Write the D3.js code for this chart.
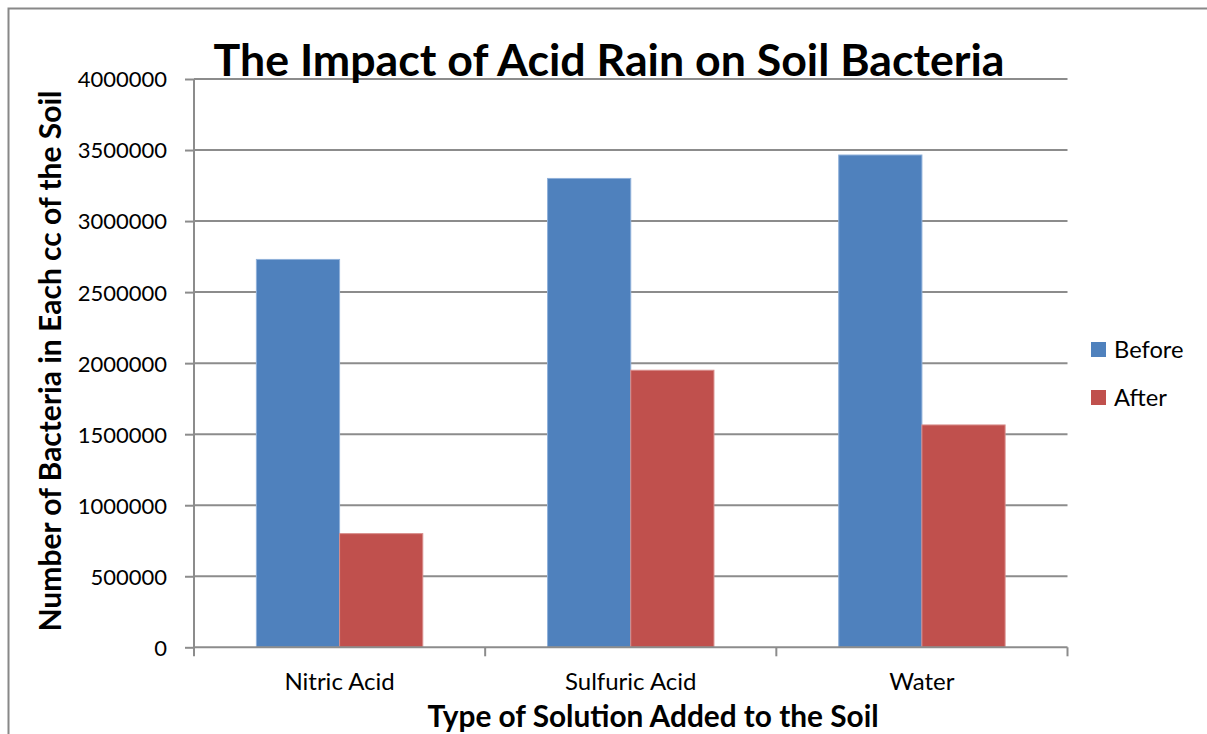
<!DOCTYPE html>
<html><head><meta charset="utf-8">
<script src="https://cdn.jsdelivr.net/npm/d3@7/dist/d3.min.js"></script>
<style>body{margin:0;background:#fff;} text{font-family:Lato,"Open Sans",sans-serif;fill:#000;}</style>
</head><body><svg id="c" width="1207" height="734"></svg>
<script>
const categories = ["Nitric Acid", "Sulfuric Acid", "Water"];
const seriesNames = ["Before", "After"];
const beforeValues = [2730000, 3300000, 3465000];
const afterValues = [800000, 1950000, 1565000];
const yTicks = [0, 500000, 1000000, 1500000, 2000000, 2500000, 3000000, 3500000, 4000000];
const colors = ["#4F81BD", "#C0504D"];

const svg = d3.select("#c");
const L = 194, R = 1067.5, T = 79, B = 647.3;
const grid = "#8c8c8c";

svg.append("rect").attr("x",8.5).attr("y",8.5).attr("width",1250).attr("height",800)
  .attr("fill","none").attr("stroke","#888").attr("stroke-width",2);

const x0 = d3.scaleBand().domain(categories).range([L, R]).paddingInner(0).paddingOuter(0);
const y = d3.scaleLinear().domain([0, 4000000]).range([B, T]);

// gridlines
svg.append("g").selectAll("line").data(yTicks.slice(1)).join("line")
  .attr("x1", L).attr("x2", R).attr("y1", d=>y(d)).attr("y2", d=>y(d))
  .attr("stroke", grid).attr("stroke-width", 2);

// bars
const data = categories.map((c,i)=>({cat:c, vals:[beforeValues[i], afterValues[i]]}));
const g = svg.append("g");
data.forEach(d=>{
  const bw = x0.bandwidth()/3.5;
  const start = x0(d.cat) + (x0.bandwidth() - 2*bw)/2;
  g.selectAll(null).data(d.vals).join("rect")
    .attr("x",(v,j)=>start + j*bw).attr("width",bw)
    .attr("y",v=>y(v)).attr("height",v=>B-y(v))
    .attr("fill",(v,j)=>colors[j]).attr("stroke",(v,j)=>j===0?"#8fb0d9":"#d88c8a").attr("stroke-width",1);
});

// y axis
const yAxis = d3.axisLeft(y).tickValues(yTicks).tickSize(9).tickPadding(18).tickFormat(d3.format("d"));
const ya = svg.append("g").attr("transform",`translate(${L},0)`).call(yAxis);
ya.select(".domain").attr("stroke",grid).attr("stroke-width",2).attr("d",`M0,${T}V${B}`);
ya.selectAll(".tick line").attr("stroke",grid).attr("stroke-width",2);
ya.selectAll(".tick text").attr("font-size",22).attr("font-family","Lato").attr("fill","#000").attr("dy","0.36em");

// x axis
const xa = svg.append("g").attr("transform",`translate(0,${B})`);
xa.append("line").attr("x1",L).attr("x2",R).attr("stroke",grid).attr("stroke-width",2);
const catEdges = [L, ...categories.map(c=>x0(c)+x0.bandwidth())];
xa.selectAll(".tk").data(catEdges).join("line").attr("x1",d=>d).attr("x2",d=>d).attr("y1",0).attr("y2",9)
  .attr("stroke",grid).attr("stroke-width",2);
xa.selectAll(".lbl").data(categories).join("text")
  .attr("x",d=>x0(d)+x0.bandwidth()/2).attr("y",43).attr("text-anchor","middle").attr("font-size",24).text(d=>d);

// titles
svg.append("text").attr("x",609).attr("y",76).attr("text-anchor","middle").attr("font-weight","bold").attr("font-size",44.7)
  .text("The Impact of Acid Rain on Soil Bacteria");
svg.append("text").attr("x",653).attr("y",727).attr("text-anchor","middle").attr("font-weight","bold").attr("font-size",29.8)
  .text("Type of Solution Added to the Soil");
svg.append("text").attr("transform","translate(61,361) rotate(-90)").attr("text-anchor","middle").attr("font-weight","bold").attr("font-size",30)
  .text("Number of Bacteria in Each cc of the Soil");

// legend
const lg = svg.append("g");
seriesNames.forEach((s,i)=>{
  lg.append("rect").attr("x",1091).attr("y",342+i*48).attr("width",15).attr("height",15).attr("fill",colors[i]);
  lg.append("text").attr("x",1114).attr("y",358+i*48).attr("font-size",23.7).text(s);
});
</script></body></html>
